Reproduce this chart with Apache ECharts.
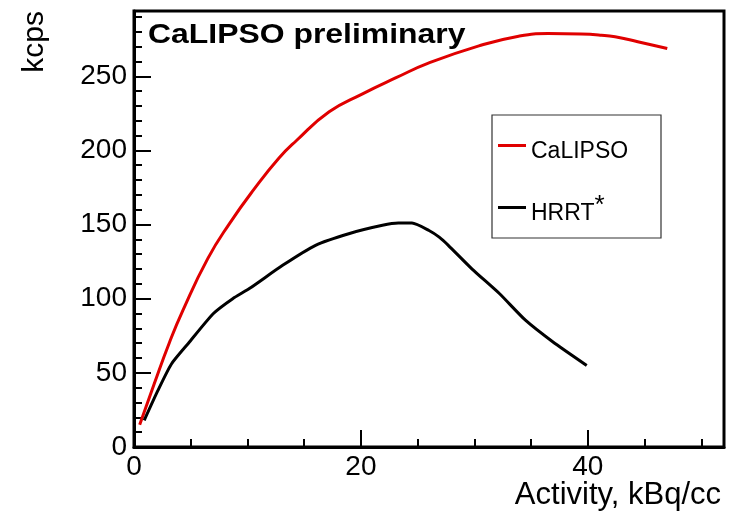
<!DOCTYPE html>
<html>
<head>
<meta charset="utf-8">
<script src="https://cdn.jsdelivr.net/npm/echarts@6/dist/echarts.min.js"></script>
<style>
  html, body { margin: 0; padding: 0; background: #fff; }
  #main { width: 731px; height: 517px; }
</style>
</head>
<body>
<div id="main"></div>
<script>
// 数据：活度 (kBq/cc) 与计数率 (kcps)
const calipsoX = [0.5, 1.8, 3.1, 4.3, 6.5, 8.4, 10.6, 12.8, 14.3, 17.2, 20.1, 23.1, 26.0, 30.4, 33.9, 36.5, 39.4, 41.2, 42.4, 44.4, 47.0]
const calipsoY = [15, 43, 70, 92, 127, 150.5, 174, 195, 206.5, 226, 238, 249, 259, 270.5, 277, 278.8, 278.5, 277.7, 276.6, 273.3, 268.7]
const hrrtX = [0.9, 2.1, 3.3, 4.8, 7.0, 8.7, 10.2, 13.1, 16.0, 19.0, 21.9, 23.3, 24.5, 26.0, 26.9, 27.7, 29.8, 32.2, 34.5, 36.9, 39.9]
const hrrtY = [18, 38, 56, 70, 90, 100, 107, 122.5, 136, 144, 149.5, 151, 151, 146, 141.5, 136, 120, 103.5, 85.5, 71, 55]
const xTicks = { min: 0, max: 52, major: 20, minor: 5 }
const yTicks = { min: 0, max: 294, major: 50, minor: 10 }

const font = 'Liberation Sans, Arial, Helvetica, sans-serif'

const zip = (xs, ys) => xs.map((x, i) => [x, ys[i]])

const chart = echarts.init(document.getElementById('main'))

// 主刻度轴（带标签）
const majorAxis = (t, pos) => ({
  type: 'value',
  position: pos,
  offset: 0,
  min: t.min,
  max: t.max,
  interval: t.major,
  axisLine: { show: true, lineStyle: { color: '#000', width: 3 } },
  axisTick: { show: true, inside: true, length: 17, lineStyle: { color: '#000', width: 2 } },
  axisLabel: {
    show: true,
    showMaxLabel: false,
    fontSize: 28,
    fontFamily: font,
    color: '#000',
    margin: pos === 'bottom' ? 6 : 7
  },
  splitLine: { show: false }
})
// 次刻度轴（只画短刻度）
const minorAxis = (t, pos) => ({
  type: 'value',
  position: pos,
  offset: 0,
  min: t.min,
  max: t.max,
  interval: t.minor,
  axisLine: { show: false },
  axisTick: { show: true, inside: true, length: 8, lineStyle: { color: '#000', width: 2 } },
  axisLabel: { show: false },
  splitLine: { show: false }
})

const option = {
  animation: false,
  backgroundColor: '#fff',
  grid: {
    left: 134,
    right: 7,
    top: 11,
    bottom: 70,
    show: true,
    borderColor: '#000',
    borderWidth: 3,
    backgroundColor: 'transparent'
  },
  xAxis: [majorAxis(xTicks, 'bottom'), minorAxis(xTicks, 'bottom')],
  yAxis: [majorAxis(yTicks, 'left'), minorAxis(yTicks, 'left')],
  legend: {
    orient: 'vertical',
    left: 498,
    top: 128,
    padding: 0,
    itemGap: 27,
    itemWidth: 28,
    itemHeight: 3,
    itemTextGap: 7,
    icon: 'rect',
    data: ['CaLIPSO', 'HRRT*'],
    formatter: (name) => (name === 'HRRT*' ? '{a|HRRT}{s|*}' : '{a|' + name + '}'),
    textStyle: {
      color: '#000',
      fontFamily: font,
      fontSize: 23,
      rich: {
        a: { fontSize: 23, fontFamily: font, color: '#000', lineHeight: 24, padding: [12, 0, 0, 0] },
        s: { fontSize: 26, fontFamily: font, color: '#000', lineHeight: 24, padding: [0, 0, 4, 0] }
      }
    }
  },
  graphic: [
    {
      type: 'rect',
      shape: { x: 492, y: 115, width: 169, height: 123 },
      style: { fill: 'transparent', stroke: '#333', lineWidth: 1.2 },
      z: 10
    },
    {
      // 标题：横向略宽
      type: 'text',
      x: 148,
      y: 49,
      scaleX: 1.14,
      style: {
        text: 'CaLIPSO preliminary',
        fontSize: 28,
        fontWeight: 'bold',
        fontFamily: font,
        fill: '#000',
        align: 'left',
        verticalAlign: 'bottom'
      }
    },
    {
      type: 'text',
      x: 35,
      y: 11,
      rotation: Math.PI / 2,
      style: {
        text: 'kcps',
        fontSize: 30,
        fontFamily: font,
        fill: '#000',
        align: 'right',
        verticalAlign: 'middle'
      }
    },
    {
      type: 'text',
      x: 721,
      y: 495,
      style: {
        text: 'Activity, kBq/cc',
        fontSize: 31,
        fontFamily: font,
        fill: '#000',
        align: 'right',
        verticalAlign: 'middle'
      }
    }
  ],
  series: [
    {
      name: 'CaLIPSO',
      type: 'line',
      smooth: 0.5,
      showSymbol: false,
      symbol: 'none',
      data: zip(calipsoX, calipsoY),
      lineStyle: { color: '#e00000', width: 3 },
      itemStyle: { color: '#e00000' }
    },
    {
      name: 'HRRT*',
      type: 'line',
      smooth: 0.2,
      showSymbol: false,
      symbol: 'none',
      data: zip(hrrtX, hrrtY),
      lineStyle: { color: '#000', width: 3 },
      itemStyle: { color: '#000' }
    }
  ]
}

chart.setOption(option)
</script>
</body>
</html>
